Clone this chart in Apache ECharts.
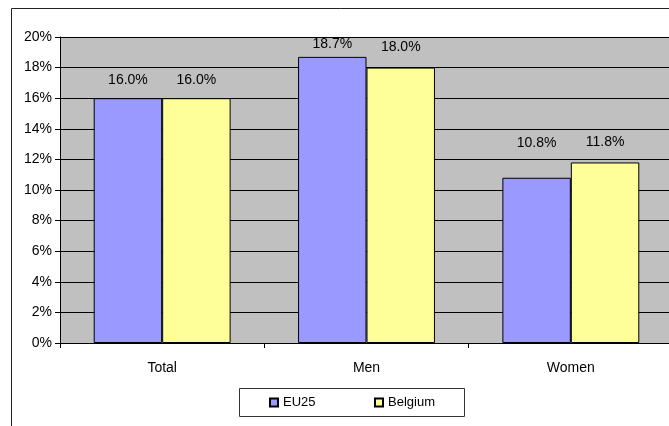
<!DOCTYPE html>
<html>
<head>
<meta charset="utf-8">
<script src="https://cdn.jsdelivr.net/npm/echarts@6/dist/echarts.min.js"></script>
<style>
html,body{margin:0;padding:0;background:#fff;}
#chart{width:669px;height:426px;}
</style>
</head>
<body>
<div id="chart"></div>
<script>
const categories = ['Total', 'Men', 'Women'];
const seriesNames = ['EU25', 'Belgium'];
const eu25 = [16.0, 18.7, 10.8];
const belgium = [16.0, 18.0, 11.8];
const yTicks = [0, 2, 4, 6, 8, 10, 12, 14, 16, 18, 20];

const FONT = '"Liberation Sans", Arial, sans-serif';
// label gap above each bar, as placed in the original
const labelGapEU = [12, 7, 29];
const labelGapBE = [12, 14, 14];

function mkData(vals, gaps) {
  return vals.map((v, i) => ({ value: v, label: { distance: gaps[i] } }));
}

const chart = echarts.init(document.getElementById('chart'), null, { renderer: 'canvas' });
chart.setOption({
  animation: false,
  backgroundColor: '#ffffff',
  grid: { left: 60, right: -4, top: 37, bottom: 83, outerBoundsMode: 'none', containLabel: false,
    show: true, backgroundColor: '#C0C0C0', borderWidth: 0 },
  graphic: [
    { type: 'rect', z: -10, shape: { x: 11.5, y: 8.5, width: 800, height: 600 }, style: { fill: null, stroke: '#222', lineWidth: 1 } },
    { type: 'rect', z: 10, shape: { x: 239.5, y: 388.5, width: 225, height: 28 }, style: { fill: '#fff', stroke: '#333', lineWidth: 1 } }
  ],
  legend: [
    { data: ['EU25'], icon: 'rect', left: 269, top: 396, itemWidth: 8, itemHeight: 8, itemGap: 0, padding: 0, z: 20,
      textStyle: { fontFamily: FONT, fontSize: 13, color: '#000' } },
    { data: ['Belgium'], icon: 'rect', left: 374, top: 396, itemWidth: 8, itemHeight: 8, itemGap: 0, padding: 0, z: 20,
      textStyle: { fontFamily: FONT, fontSize: 13, color: '#000' } }
  ],
  xAxis: {
    type: 'category',
    data: categories,
    axisLine: { lineStyle: { color: '#000', width: 1 } },
    axisTick: { show: true, alignWithLabel: false, length: 5, lineStyle: { color: '#000' } },
    axisLabel: { fontFamily: FONT, fontSize: 14, color: '#000', margin: 18, lineHeight: 14 },
    splitLine: { show: false }
  },
  yAxis: {
    type: 'value',
    min: yTicks[0],
    max: yTicks[yTicks.length - 1],
    interval: yTicks[1] - yTicks[0],
    axisLine: { show: true, lineStyle: { color: '#000', width: 1 } },
    axisTick: { show: true, length: 5, lineStyle: { color: '#000' } },
    axisLabel: { fontFamily: FONT, fontSize: 14, color: '#000', margin: 8, formatter: '{value}%' },
    splitLine: { show: true, lineStyle: { color: '#000', width: 1 } }
  },
  series: [
    {
      name: seriesNames[0], type: 'bar', data: mkData(eu25, labelGapEU),
      barGap: '0%', barCategoryGap: '33%',
      itemStyle: { color: '#9999FF', borderColor: '#000', borderWidth: 1 },
      label: { show: true, position: 'top', fontFamily: FONT, fontSize: 14, color: '#000', lineHeight: 12,
        formatter: p => p.value.toFixed(1) + '%' }
    },
    {
      name: seriesNames[1], type: 'bar', data: mkData(belgium, labelGapBE),
      barGap: '0%', barCategoryGap: '33%',
      itemStyle: { color: '#FFFF99', borderColor: '#000', borderWidth: 1 },
      label: { show: true, position: 'top', fontFamily: FONT, fontSize: 14, color: '#000', lineHeight: 12,
        formatter: p => p.value.toFixed(1) + '%' }
    }
  ]
});
</script>
</body>
</html>
